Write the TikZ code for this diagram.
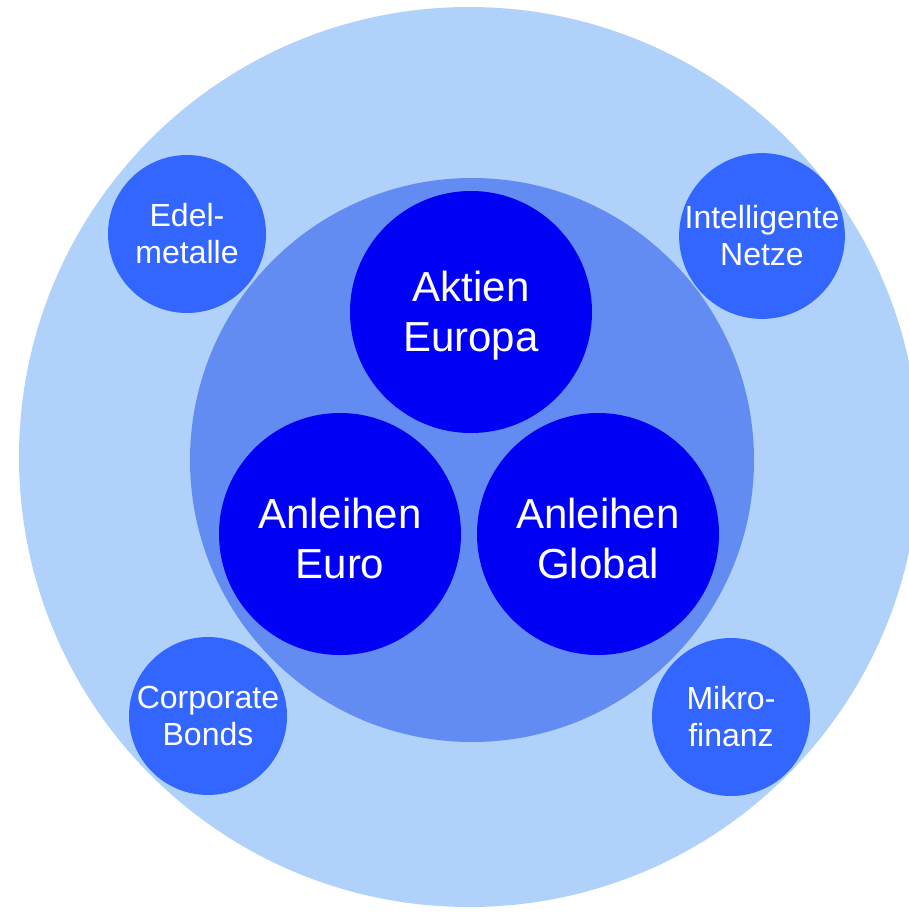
\documentclass[tikz,border=0pt]{standalone}
\usepackage{fontspec}
\setmainfont{Liberation Sans}
\usepackage{tikz}
\definecolor{outerblue}{RGB}{176,210,250}
\definecolor{innerblue}{RGB}{98,140,242}
\definecolor{smallblue}{RGB}{51,102,255}
\definecolor{coreblue}{RGB}{0,0,245}

\begin{document}
\begin{tikzpicture}
		[x=1pt,y=-1pt,
		ring/.style= {circle,inner sep=0pt,draw=none},
		small/.style= {circle,inner sep=0pt,minimum size=158pt,fill=smallblue,text=white,align=center,
			font=\fontsize{32}{37}\selectfont},
		core/.style= {circle,inner sep=0pt,minimum size=242pt,fill=coreblue,
			label={[coretext]center:#1}},
		coretext/.style= {text=white,align=center,yshift=-4pt,font=\fontsize{42}{50}\selectfont}]

		\useasboundingbox (0,0) rectangle (909,914);

		\node[ring,minimum size=900pt,fill=outerblue] (outer) at (469,457) {};
		\node[ring,minimum size=564pt,fill=innerblue] (inner) at (472,460) {};

		\node[core={Aktien\\Europa}] (aktien) at (471,312) {};
		\node[core={Anleihen\\Euro}] (aeuro) at (340,534) {};
		\node[core={Anleihen\\Global}] (aglobal) at (598,534) {};

		\node[small] (edel) at (187,234) {Edel-\\metalle};
		\node[small] (netze) at (762,236) {Intelligente\\Netze};
		\node[small] (corp) at (208,716) {Corporate\\Bonds};
		\node[small] (mikro) at (731,717) {Mikro-\\finanz};

	\end{tikzpicture}
\end{document}
